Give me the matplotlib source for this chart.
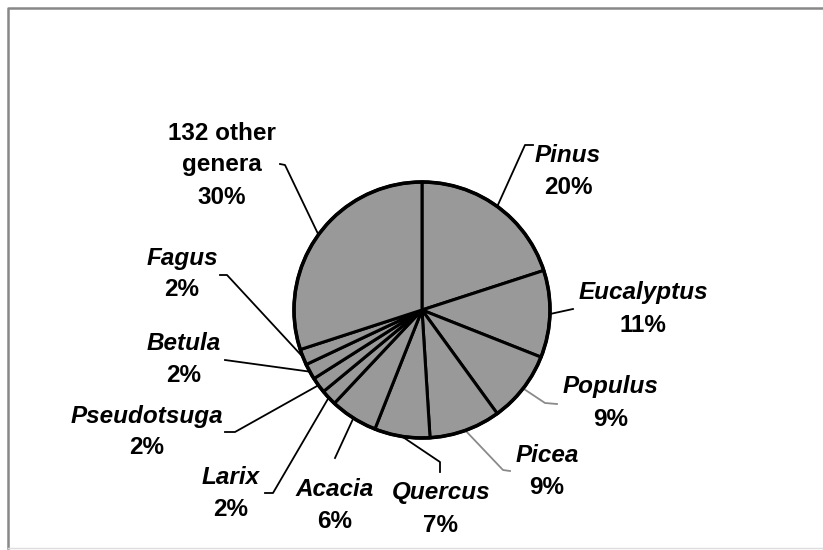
import numpy as np
import matplotlib.pyplot as plt

# genus shares (percent of planted area)
genera = ["Pinus", "Eucalyptus", "Populus", "Picea", "Quercus", "Acacia",
          "Larix", "Pseudotsuga", "Betula", "Fagus", "132 other\ngenera"]
shares = [20, 11, 9, 9, 7, 6, 2, 2, 2, 2, 30]
italic = [True] * 10 + [False]

# layout (pixel coords, y measured from top)
W, H = 823, 550
cx, cy, R = 422, 310, 128
label_xy = [(568, 172), (643, 309), (611, 403), (547, 471), (441, 509),
            (335, 505), (231, 494), (147, 432), (184, 360), (182, 274),
            (222, 165)]
line_gap = 32
# leader end points: elbow then tip
leader = [[(525, 145), (533, 145)], [(573, 309), (573, 309)],
          [(545, 403), (557, 404)], [(503, 470), (510, 471)],
          [(440, 462), (440, 472)], [(335, 458), (335, 458)],
          [(273, 493), (265, 493)], [(235, 432), (225, 432)],
          [(225, 360), (225, 360)], [(227, 275), (220, 275)],
          [(285, 165), (280, 164)]]
leader_col = ["black", "black", "#8a8a8a", "#8a8a8a"] + ["black"] * 7

fig = plt.figure(figsize=(W / 100, H / 100), dpi=100)
ax = fig.add_axes([0, 0, 1, 1])

wedges, _ = ax.pie(shares, center=(cx, H - cy), radius=R, startangle=90,
                   counterclock=False, colors=["#999999"] * len(shares),
                   wedgeprops=dict(edgecolor="black", linewidth=2.2))
ax.add_patch(plt.Circle((cx, H - cy), R, fill=False, ec="black", lw=2.6, zorder=5))

ax.set_xlim(0, W)
ax.set_ylim(0, H)
ax.set_aspect("equal")
ax.axis("off")

font = dict(ha="center", va="center", fontsize=17.5, fontweight="bold",
            family="Liberation Sans")

for w, name, val, it, (lx, ly), pts, col in zip(wedges, genera, shares, italic,
                                                 label_xy, leader, leader_col):
    mid = np.deg2rad((w.theta1 + w.theta2) / 2)
    sx, sy = cx + R * np.cos(mid), (H - cy) + R * np.sin(mid)
    xs = [sx] + [p[0] for p in pts]
    ys = [sy] + [H - p[1] for p in pts]
    ax.plot(xs, ys, color=col, lw=1.3, zorder=1)

    lines = name.split("\n") + ["%d%%" % val]
    top = ly - line_gap * (len(lines) - 1) / 2
    for i, s in enumerate(lines):
        is_name = i < len(lines) - 1
        ax.text(lx, H - (top + i * line_gap), s,
                style="italic" if (it and is_name) else "normal", **font)

# chart frame
ax.plot([8, 8, W], [2, H - 8, H - 8], color="#888888", lw=1.8)
ax.plot([8, W], [2, 2], color="#dddddd", lw=1)

fig.savefig("out.png", dpi=100)
